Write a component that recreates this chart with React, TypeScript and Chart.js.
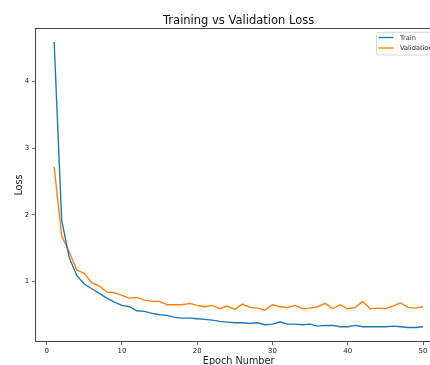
import React, { useEffect, useRef } from "react";
import { Chart, registerables } from "chart.js";

Chart.register(...registerables);

const epochs = [1, 2, 3, 4, 5, 6, 7, 8, 9, 10, 11, 12, 13, 14, 15, 16, 17, 18, 19, 20, 21, 22, 23, 24, 25, 26, 27, 28, 29, 30, 31, 32, 33, 34, 35, 36, 37, 38, 39, 40, 41, 42, 43, 44, 45, 46, 47, 48, 49, 50];
const trainLoss = [
  4.59, 1.92, 1.36, 1.09, 0.96, 0.89, 0.82, 0.75, 0.69, 0.64,
  0.62, 0.56, 0.55, 0.52, 0.50, 0.49, 0.46, 0.45, 0.45, 0.44,
  0.43, 0.42, 0.40, 0.39, 0.38, 0.38, 0.37, 0.38, 0.35, 0.36,
  0.39, 0.36, 0.36, 0.35, 0.36, 0.33, 0.34, 0.34, 0.32, 0.32,
  0.34, 0.32, 0.32, 0.32, 0.32, 0.33, 0.32, 0.31, 0.31, 0.32,
];
const valLoss = [
  2.72, 1.68, 1.44, 1.17, 1.12, 0.98, 0.93, 0.84, 0.83, 0.79,
  0.75, 0.76, 0.72, 0.70, 0.70, 0.65, 0.65, 0.65, 0.67, 0.64,
  0.62, 0.64, 0.59, 0.63, 0.58, 0.66, 0.61, 0.60, 0.57, 0.65,
  0.62, 0.61, 0.64, 0.59, 0.60, 0.62, 0.67, 0.59, 0.65, 0.59,
  0.61, 0.70, 0.59, 0.60, 0.59, 0.63, 0.68, 0.61, 0.60, 0.62,
];
const xTicks = [0, 10, 20, 30, 40, 50];
const yTicks = [1, 2, 3, 4];
const seriesNames = ["Train", "Validation"];
const seriesColors = ["#1f77b4", "#ff7f0e"];
const titleText = "Training vs Validation Loss";
const xLabel = "Epoch Number";
const yLabel = "Loss";

const FONT = "'DejaVu Sans', sans-serif";
const W = 450;
const H = 380;

const decor = {
  id: "decor",
  afterDraw(chart: any) {
    const { ctx, chartArea } = chart;
    const { left, right, top, bottom } = chartArea;
    ctx.save();
    // top & right spines
    ctx.strokeStyle = "#444";
    ctx.lineWidth = 1;
    ctx.beginPath();
    ctx.moveTo(left, Math.round(top) + 0.5);
    ctx.lineTo(right, Math.round(top) + 0.5);
    ctx.moveTo(Math.round(right) + 0.5, top);
    ctx.lineTo(Math.round(right) + 0.5, bottom);
    ctx.stroke();

    const cx = (left + right) / 2;
    ctx.fillStyle = "#111";
    ctx.textAlign = "center";
    ctx.textBaseline = "alphabetic";
    ctx.font = `11.5px ${FONT}`;
    ctx.fillText(titleText, cx, 23.5);

    ctx.fillStyle = "#222";
    ctx.font = `9.7px ${FONT}`;
    ctx.fillText(xLabel, cx, 363.8);

    ctx.save();
    ctx.translate(21.5, (top + bottom) / 2);
    ctx.rotate(-Math.PI / 2);
    ctx.fillText(yLabel, 0, 0);
    ctx.restore();

    // legend
    const bx = 376.5, by = 32.3, bw = 60, bh = 22.7;
    ctx.fillStyle = "rgba(255,255,255,0.8)";
    ctx.strokeStyle = "#d8d8d8";
    ctx.lineWidth = 1;
    ctx.beginPath();
    const r = 2;
    ctx.moveTo(bx + r, by);
    ctx.lineTo(bx + bw - r, by);
    ctx.quadraticCurveTo(bx + bw, by, bx + bw, by + r);
    ctx.lineTo(bx + bw, by + bh - r);
    ctx.quadraticCurveTo(bx + bw, by + bh, bx + bw - r, by + bh);
    ctx.lineTo(bx + r, by + bh);
    ctx.quadraticCurveTo(bx, by + bh, bx, by + bh - r);
    ctx.lineTo(bx, by + r);
    ctx.quadraticCurveTo(bx, by, bx + r, by);
    ctx.closePath();
    ctx.fill();
    ctx.stroke();
    const rows = [37.5, 48];
    ctx.font = `6.6px ${FONT}`;
    ctx.textAlign = "left";
    ctx.textBaseline = "middle";
    seriesNames.forEach((name, i) => {
      ctx.strokeStyle = seriesColors[i];
      ctx.lineWidth = 1.4;
      ctx.beginPath();
      ctx.moveTo(378.5, rows[i]);
      ctx.lineTo(393.5, rows[i]);
      ctx.stroke();
      ctx.fillStyle = "#222";
      ctx.fillText(name, 400, rows[i] + 0.3);
    });
    ctx.restore();
  },
};

export default function App() {
  const ref = useRef<HTMLCanvasElement>(null);
  useEffect(() => {
    document.body.style.overflow = "hidden";
    const canvas = ref.current!;
    const chart = new Chart(canvas, {
      type: "line",
      data: {
        datasets: [
          {
            label: seriesNames[0],
            data: epochs.map((e, i) => ({ x: e, y: trainLoss[i] })),
            borderColor: seriesColors[0],
            backgroundColor: seriesColors[0],
            borderWidth: 1.4,
            pointRadius: 0,
            tension: 0,
          },
          {
            label: seriesNames[1],
            data: epochs.map((e, i) => ({ x: e, y: valLoss[i] })),
            borderColor: seriesColors[1],
            backgroundColor: seriesColors[1],
            borderWidth: 1.4,
            pointRadius: 0,
            tension: 0,
          },
        ],
      },
      options: {
        responsive: false,
        animation: false,
        devicePixelRatio: 1,
        layout: { padding: { left: 0, top: 28.3, right: W - 441.5, bottom: 0 } },
        plugins: {
          legend: { display: false },
          title: { display: false },
          tooltip: { enabled: false },
        },
        scales: {
          x: {
            type: "linear",
            min: -1.45,
            max: 52.45,
            afterFit: (s: any) => {
              s.height = H - 341.7;
            },
            afterBuildTicks: (s: any) => {
              s.ticks = xTicks.map((v) => ({ value: v }));
            },
            grid: { drawOnChartArea: false, drawTicks: true, tickLength: 3.5, color: "#444", tickWidth: 0.8 },
            border: { display: true, color: "#444", width: 1 },
            ticks: { color: "#222", font: { family: FONT, size: 7 }, padding: 1.5, maxRotation: 0, autoSkip: false },
          },
          y: {
            type: "linear",
            min: 0.096,
            max: 4.795,
            afterFit: (s: any) => {
              s.width = 35.7;
            },
            afterBuildTicks: (s: any) => {
              s.ticks = yTicks.map((v) => ({ value: v }));
            },
            grid: { drawOnChartArea: false, drawTicks: true, tickLength: 3.5, color: "#444", tickWidth: 0.8 },
            border: { display: true, color: "#444", width: 1 },
            ticks: { color: "#222", font: { family: FONT, size: 7 }, padding: 3, autoSkip: false },
          },
        },
      },
      plugins: [decor],
    } as any);
    return () => chart.destroy();
  }, []);
  return (
    <div style={{ position: "fixed", left: 0, top: 0, width: W, height: H, background: "#fff" }}>
      <canvas ref={ref} width={W} height={H} style={{ width: W, height: H, display: "block" }} />
    </div>
  );
}
